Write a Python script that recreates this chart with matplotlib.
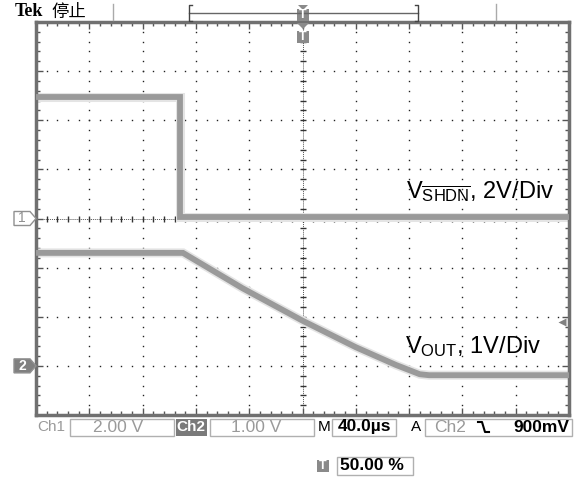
import numpy as np
import matplotlib.pyplot as plt
from matplotlib.patches import Polygon, Rectangle

plt.rcParams['mathtext.fontset'] = 'custom'
plt.rcParams['mathtext.rm'] = 'Liberation Sans'
plt.rcParams['mathtext.it'] = 'Liberation Sans'

# --- data (time in us relative to trigger, volts) ---
ch1_t = [-200, -91.9, -91.9, 200]
ch1_v = [4.95, 4.95, 0.05, 0.05]
ch2_t = [-200, -89.7, -45, 0, 40, 70, 88, 95, 200]
ch2_v = [2.30, 2.30, 1.58, 0.92, 0.38, 0.02, -0.17, -0.19, -0.19]

ch1_scale, ch1_pos = 2.0, 0.0    # V/div, div
ch2_scale, ch2_pos = 1.0, -3.0
time_div = 40.0                  # us/div
trig_level = 0.9                 # V on ch2

W, H = 578, 479
def fx(px): return px / W
def fy(py): return 1 - py / H

fig = plt.figure(figsize=(W / 100, H / 100), dpi=100)
ax = fig.add_axes([fx(36), fy(415), fx(569) - fx(36), fy(22) - fy(415)])
ax.set_xlim(-5 * time_div, 5 * time_div)
ax.set_ylim(-4, 4)

# graticule dots
minor_x = np.arange(-200, 200.1, time_div / 5)
minor_y = np.arange(-4, 4.01, 0.2)
for i in range(-4, 5):
    if i == 0:
        continue
    ax.plot(np.full(minor_y.size, i * time_div), minor_y, ls='none', marker='s',
            ms=1.0, mec='none', color='#222222', zorder=1)
for j in range(-3, 4):
    if j == 0:
        continue
    ax.plot(minor_x, np.full(minor_x.size, j), ls='none', marker='s',
            ms=1.0, mec='none', color='#222222', zorder=1)
# centre axes
ax.axvline(0, color='#555555', lw=0.7, ls=(0, (1, 1)), zorder=1)
ax.axhline(0, color='#555555', lw=0.7, ls=(0, (1, 1)), zorder=1)
ax.plot(np.zeros(minor_y.size), minor_y, ls='none', marker='_', ms=5, mew=1,
        color='#333333', zorder=1)
ax.plot(minor_x, np.zeros(minor_x.size), ls='none', marker='|', ms=5, mew=1,
        color='#333333', zorder=1)

# border with ticks
for s in ax.spines.values():
    s.set_color('#707070')
    s.set_linewidth(2.5)
ax.set_xticks(np.arange(-200, 201, time_div))
ax.set_yticks(np.arange(-4, 5, 1))
ax.set_xticks(minor_x, minor=True)
ax.set_yticks(minor_y, minor=True)
ax.tick_params(which='both', direction='in', top=True, right=True,
               labelbottom=False, labelleft=False, color='#555555')
ax.tick_params(which='major', length=5, width=1)
ax.tick_params(which='minor', length=3, width=1)

# traces
y1 = np.array(ch1_v) / ch1_scale + ch1_pos
y2 = np.array(ch2_v) / ch2_scale + ch2_pos
for t, y in [(ch1_t, y1), (ch2_t, y2)]:
    ax.plot(t, y, color='#e4e4e4', lw=6.5, solid_joinstyle='miter', zorder=2)
    ax.plot(t, y, color='#9a9a9a', lw=4.2, solid_joinstyle='miter', zorder=3)

# trace labels
fig.text(fx(406), fy(198), r'$\mathregular{V_{\overline{SHDN}}}$, 2V/Div',
         fontsize=17, family='Liberation Sans', va='baseline')
fig.text(fx(405), fy(353), r'$\mathregular{V_{OUT}}$, 1V/Div',
         fontsize=17, family='Liberation Sans', va='baseline')

# channel ground markers
def marker(py, label, filled):
    x0, x1, xt = 14, 30, 36
    pts = [(fx(x0), fy(py - 7)), (fx(x1), fy(py - 7)), (fx(xt), fy(py)),
           (fx(x1), fy(py + 7)), (fx(x0), fy(py + 7))]
    fc = '#808080' if filled else 'white'
    fig.patches.append(Polygon(pts, closed=True, transform=fig.transFigure,
                               fc=fc, ec='#909090', lw=1))
    fig.text(fx(22), fy(py), label, fontsize=10, ha='center', va='center',
             color='white' if filled else '#909090', family='Liberation Sans',
             fontweight='bold' if filled else 'normal')

marker(218.5 - ch1_pos * 49.125, '1', False)
marker(218.5 - ch2_pos * 49.125, '2', True)

# trigger level arrow (right edge)
trig_y = trig_level / ch2_scale + ch2_pos
ax.plot([195], [trig_y], marker='<', ms=6, color='#808080', mec='none',
        clip_on=False, zorder=4)

# trigger position marker
def tmark(px, py):
    fig.patches.append(Rectangle((fx(px - 6), fy(py + 6)), fx(12), 12 / H,
                                 transform=fig.transFigure, fc='#8a8a8a', ec='none'))
    fig.text(fx(px), fy(py), 'T', fontsize=9, ha='center', va='center',
             color='white', fontweight='bold', family='Liberation Sans')

fig.patches.append(Polygon([(fx(297), fy(23)), (fx(309), fy(23)), (fx(303), fy(29))],
                           transform=fig.transFigure, fc='#8a8a8a', ec='none'))
tmark(303, 37)

# header
fig.text(fx(15), fy(12), 'Tek', fontsize=13, fontweight='bold',
         family='Liberation Serif', va='center')
fig.text(fx(51), fy(12), '停止', fontsize=12.5,
         family=['Noto Sans CJK SC', 'DejaVu Sans'], va='center')
for px in (113, 496):
    fig.add_artist(plt.Line2D([fx(px), fx(px)], [fy(4), fy(20)], color='#aaaaaa',
                              lw=1, transform=fig.transFigure))
fig.add_artist(plt.Line2D([fx(189), fx(418)], [fy(13), fy(13)], color='#666666',
                          lw=1, transform=fig.transFigure))
for px, d in ((189, 1), (418, -1)):
    fig.add_artist(plt.Line2D([fx(px + 3 * d), fx(px), fx(px), fx(px + 3 * d)],
                              [fy(5), fy(5), fy(21), fy(21)], color='#444444',
                              lw=1, transform=fig.transFigure))
fig.patches.append(Polygon([(fx(298), fy(5)), (fx(308), fy(5)), (fx(303), fy(10))],
                           transform=fig.transFigure, fc='#8a8a8a', ec='none'))
tmark(303, 15)

# status bar
sy = 427
def box(x0, x1, y0=419, y1=436):
    fig.patches.append(Rectangle((fx(x0), fy(y1)), fx(x1 - x0), (y1 - y0) / H,
                                 transform=fig.transFigure, fc='none',
                                 ec='#b0b0b0', lw=1))

font = dict(family='Liberation Sans', fontsize=11, va='center')
big = dict(family='Liberation Sans', fontsize=12.5, va='center')
fig.text(fx(37), fy(sy), 'Ch1', color='#9a9a9a', **font)
box(70, 174)
fig.text(fx(118), fy(sy), '2.00 V', color='#9a9a9a', ha='center', **big)
fig.patches.append(Rectangle((fx(176), fy(436)), fx(31), 17 / H,
                             transform=fig.transFigure, fc='#7a7a7a', ec='none'))
fig.text(fx(191), fy(sy), 'Ch2', color='white', ha='center', fontweight='bold', **font)
box(210, 314)
fig.text(fx(256), fy(sy), '1.00 V', color='#9a9a9a', ha='center', **big)
fig.text(fx(318), fy(sy), 'M', color='black', **font)
box(332, 396)
fig.text(fx(364), fy(sy), '40.0µs', color='black', ha='center', fontweight='bold', **big)
fig.text(fx(411), fy(sy), 'A', color='black', **font)
box(425, 572)
fig.text(fx(434), fy(sy), 'Ch2', color='#9a9a9a', **big)
fig.add_artist(plt.Line2D([fx(478), fx(482), fx(485), fx(489)],
                          [fy(422), fy(422), fy(432), fy(432)], color='black',
                          lw=1.5, transform=fig.transFigure))
fig.text(fx(569), fy(sy), '900mV', color='black', ha='right', fontweight='bold', **big)

# trigger position readout
tmark(323, 466)
box(337, 413, 457, 475)
fig.text(fx(340), fy(466), '50.00 %', color='black', fontweight='bold',
         family='Liberation Sans', fontsize=12.5, va='center')

fig.savefig('out.png', dpi=100)
